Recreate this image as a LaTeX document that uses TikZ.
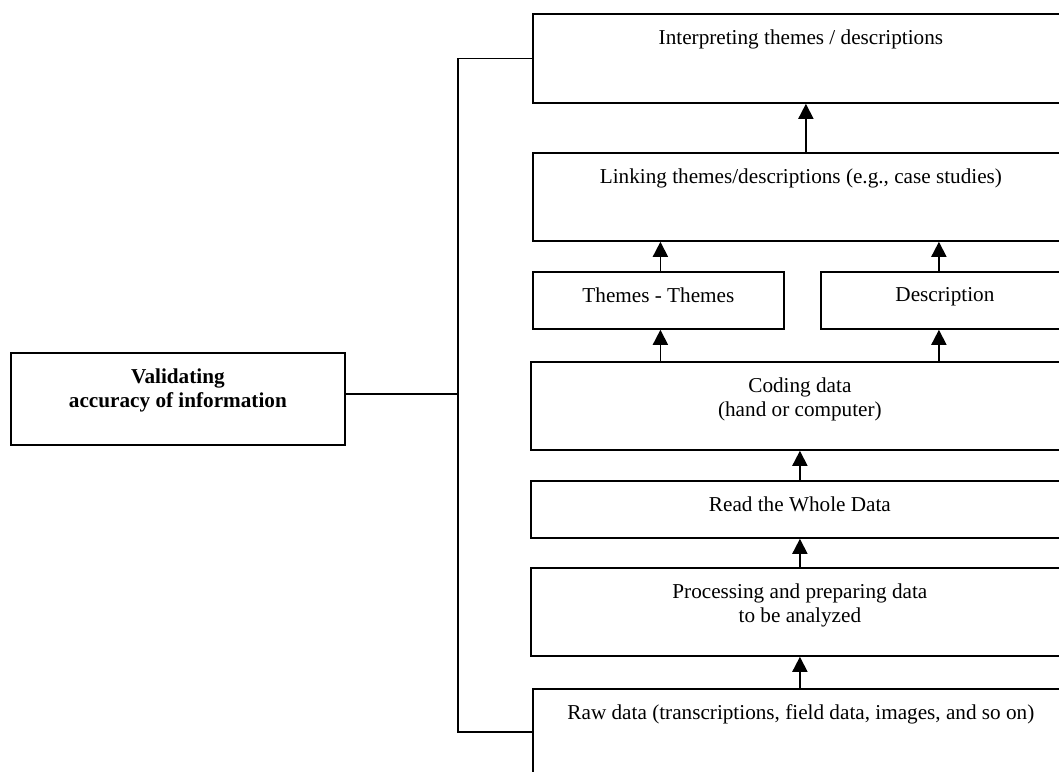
\documentclass[tikz,border=0pt]{standalone}
\usepackage{fontspec}
\setmainfont{Liberation Serif}
\usepackage{tikz}
\usetikzlibrary{calc, positioning, arrows.meta}

\begin{document}
\begin{tikzpicture}[x=0.5pt, y=-0.5pt, font=\fontsize{10.6}{12}\selectfont, line width=0.9pt,
    box/.style={draw, inner sep=0pt, anchor=north west},
    boxtxt/.style={anchor=north, align=center, inner sep=0pt, yshift=-8pt},
    arr/.style={-{Triangle[width=7.5pt, length=7.5pt]}}]
  \useasboundingbox (0,0) rectangle (1059,771);
  \clip (0,0) rectangle (1059,771);
  % name, x-left, y-top, width, height
  \foreach \n/\x/\y/\w/\h in {interp/532/13/268/44.5, link/532/152/268/44,
                              themes/532/271/125.5/28.5, descr/820/271/124/28.5,
                              coding/530/361/269/44, read/530/480/269/28.5,
                              proc/530/567/269/44, raw/532/688/268/43,
                              valid/10/352/167/46} {
    \node[box, minimum width=\w pt, minimum height=\h pt] (\n) at (\x,\y) {};
  }
  % name, text
  \foreach \n/\t in {interp/{Interpreting themes / descriptions},
                     link/{Linking themes/descriptions (e.g., case studies)},
                     themes/{Themes - Themes}, descr/{Description},
                     coding/{Coding data\\(hand or computer)},
                     read/{Read the Whole Data},
                     proc/{Processing and preparing data\\to be analyzed},
                     raw/{Raw data (transcriptions, field data, images, and so on)}} {
    \node[boxtxt] (\n-t) at (\n.north) {\t};
  }
  \node[boxtxt, font=\fontsize{10.6}{12}\selectfont\bfseries] (valid-t) at (valid.north)
    {Validating\\accuracy of information};
  \coordinate (spine) at (458,393);
  \draw (interp.west) -| (spine) |- (raw.west);
  \draw ([yshift=2.5pt]valid.east) -- ([yshift=2.5pt]valid.east -| spine);
  \draw[arr] ([xshift=2.5pt]link.north) -- ([xshift=2.5pt]interp.south);
  \draw[arr] ([xshift=1pt]themes.north) -- ([xshift=1pt]themes.north |- link.south);
  \draw[arr] ([xshift=-3pt]descr.north) -- ([xshift=-3pt]descr.north |- link.south);
  \draw[arr] ([xshift=1pt]themes.south |- coding.north) -- ([xshift=1pt]themes.south);
  \draw[arr] ([xshift=-3pt]descr.south |- coding.north) -- ([xshift=-3pt]descr.south);
  \draw[arr] (read.north) -- (coding.south);
  \draw[arr] (proc.north) -- (read.south);
  \draw[arr] (proc.south |- raw.north) -- (proc.south);
\end{tikzpicture}
\end{document}
